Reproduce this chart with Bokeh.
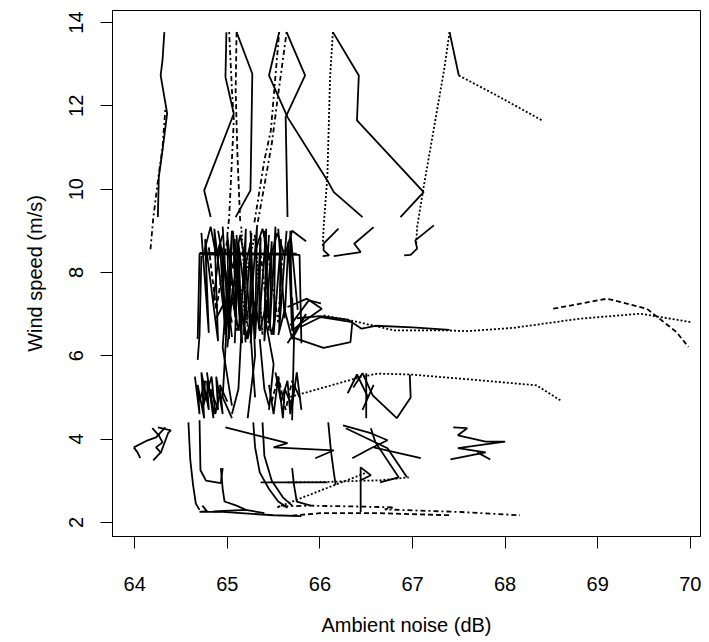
from bokeh.plotting import figure
from bokeh.models import FixedTicker, Range1d
from bokeh.embed import file_html
from bokeh.resources import INLINE

x_ticks = [64, 65, 66, 67, 68, 69, 70]
y_ticks = [2, 4, 6, 8, 10, 12, 14]
x_title = "Ambient noise (dB)"
y_title = "Wind speed (m/s)"

DASH = {"solid": "solid", "dashed": "5 3", "dotted": "2 2",
        "dotdash": "2 3 5 3", "longdash": "8 3", "twodash": "2 2 6 2"}

# ---- high-wind traces (top of chart)
top_noise = [
    [64.32, 64.30, 64.28, 64.35, 64.30, 64.26, 64.25],
    [64.33, 64.30, 64.25, 64.20, 64.17],
    [64.99, 64.98, 65.07, 64.75, 64.82],
    [65.02, 65.05, 65.07, 65.02, 65.00],
    [65.10, 65.09, 65.11, 65.14],
    [65.10, 65.27, 65.25, 65.09],
    [65.56, 65.45, 65.65, 66.08, 66.15, 66.46],
    [65.64, 65.84, 65.63, 65.65],
    [65.56, 65.47, 65.40, 65.29],
    [65.64, 65.54, 65.48, 65.32],
    [66.14, 66.11, 66.08, 66.04, 66.03],
    [66.14, 66.42, 66.40, 67.12, 66.87],
    [67.40, 67.34, 67.12, 67.05, 67.04],
    [67.40, 67.50],
    [67.50, 67.91, 68.40],
    [66.20, 66.04, 66.04, 66.10, 66.03],
    [66.15, 66.44, 66.37, 66.58],
    [66.91, 66.98, 67.05, 67.03, 67.23],
]
top_wind = [
    [13.77, 13.09, 12.73, 11.82, 10.93, 10.29, 9.33],
    [11.90, 11.00, 10.20, 9.30, 8.55],
    [13.77, 12.69, 11.81, 9.97, 9.33],
    [13.77, 12.37, 11.65, 9.33, 8.90],
    [13.77, 12.37, 10.77, 9.17],
    [13.77, 12.77, 9.97, 9.33],
    [13.77, 12.73, 11.73, 10.21, 9.93, 9.33],
    [13.77, 12.73, 11.73, 9.33],
    [13.77, 11.41, 10.69, 9.17],
    [13.77, 12.12, 11.09, 9.09],
    [13.77, 12.69, 10.29, 9.09, 8.60],
    [13.77, 12.73, 11.65, 9.93, 9.33],
    [13.77, 12.85, 10.05, 9.09, 8.70],
    [13.77, 12.73],
    [12.73, 12.25, 11.65],
    [9.05, 8.69, 8.53, 8.41, 8.39],
    [8.39, 8.49, 8.69, 9.09],
    [8.41, 8.42, 8.57, 8.77, 9.13],
]
top_dash = ["solid", "dotdash", "solid", "dotdash", "dashed", "solid", "solid",
            "solid", "dotdash", "dotdash", "dotted", "solid", "dotted", "solid",
            "dotted", "solid", "solid", "solid"]

# ---- dense middle cluster
mid_noise = [
    [64.72, 64.80, 64.76, 64.90, 64.86, 64.98, 64.94, 65.05],
    [64.95, 65.02, 65.00, 65.10, 65.06, 65.16, 65.12, 65.22],
    [65.08, 65.14, 65.20, 65.18, 65.26, 65.24, 65.32, 65.30],
    [65.25, 65.30, 65.36, 65.34, 65.42, 65.40, 65.48, 65.46],
    [65.40, 65.46, 65.52, 65.50, 65.58, 65.56, 65.64],
    [65.55, 65.62, 65.66, 65.70, 65.68, 65.76],
    [64.85, 64.92, 64.98, 65.05, 65.02, 65.12, 65.08],
    [65.00, 65.05, 65.12, 65.15, 65.20, 65.28, 65.25],
    [65.15, 65.22, 65.30, 65.35, 65.42, 65.48, 65.52],
    [64.80, 64.88, 65.00, 65.10, 65.08, 65.20],
    [65.15, 65.22, 65.15, 65.30, 65.38, 65.33],
    [65.35, 65.45, 65.40, 65.55, 65.60],
    [64.68, 64.70, 65.78, 65.80],
    [64.70, 65.75],
    [64.73, 65.70],
    [65.10, 65.15, 65.12, 65.05],
    [65.25, 65.30, 65.22],
    [65.20, 65.28, 65.30],
    [64.72, 64.70, 64.68],
    [65.70, 65.72, 65.70],
    [64.90, 65.00, 64.95, 65.05],
    [65.45, 65.40, 65.50, 65.45],
    [65.00, 65.06, 65.14, 65.20, 65.26],
    [65.30, 65.38, 65.46, 65.54, 65.62, 65.70, 65.85],
    [64.75, 64.82, 64.88, 64.95],
    [65.55, 65.62, 65.70, 65.85, 65.65],
    [65.68, 65.88, 66.01],
    [64.88, 64.95, 65.05, 65.02, 64.98],
]
mid_wind = [
    [8.95, 6.55, 8.80, 6.35, 9.05, 6.70, 8.60, 6.45],
    [9.10, 6.40, 8.90, 6.80, 9.00, 6.30, 8.70, 6.90],
    [8.80, 6.60, 9.05, 6.50, 8.95, 6.75, 9.10, 6.40],
    [9.00, 6.45, 8.85, 6.65, 9.05, 6.35, 8.75, 6.85],
    [8.90, 6.70, 9.10, 6.50, 8.80, 6.60, 9.00],
    [9.05, 6.90, 8.75, 6.60, 9.00, 7.10],
    [7.30, 8.70, 6.50, 9.00, 7.00, 8.50, 6.30],
    [6.20, 7.40, 6.60, 7.20, 6.40, 7.10, 6.30],
    [7.00, 6.40, 7.30, 6.60, 7.20, 6.50, 7.00],
    [8.60, 7.10, 8.80, 6.60, 8.40, 6.30],
    [9.10, 6.70, 7.50, 8.90, 6.50, 8.20],
    [8.70, 6.60, 9.00, 6.80, 8.60],
    [6.40, 8.45, 8.42, 6.30],
    [8.47, 8.45],
    [8.43, 8.44],
    [8.90, 6.50, 5.20, 4.60],
    [8.70, 6.00, 4.50],
    [8.20, 5.60, 5.00],
    [8.40, 6.50, 5.90],
    [7.40, 6.40, 4.45],
    [9.00, 7.80, 6.20, 4.80],
    [8.90, 7.00, 5.80, 4.70],
    [8.65, 8.10, 8.90, 8.20, 8.80],
    [8.50, 9.05, 8.30, 8.95, 8.40, 9.00, 8.75],
    [8.50, 9.10, 8.40, 8.90],
    [6.50, 7.10, 6.40, 7.00, 6.30],
    [6.73, 7.33, 7.26],
    [6.90, 7.20, 6.80, 7.10, 6.60],
]
mid_dash = ["solid", "solid", "solid", "solid", "solid", "solid", "solid", "solid",
            "solid", "dashed", "dotted", "dotdash", "solid", "solid", "solid",
            "solid", "solid", "solid", "solid", "solid", "solid", "solid",
            "solid", "solid", "solid", "solid", "solid", "solid"]

# ---- moderate wind traces extending to the right
right_noise = [
    [66.04, 66.33, 66.80, 67.37, 67.59, 68.09, 68.81, 69.46, 70.00],
    [65.75, 66.00, 66.30, 66.45, 66.60, 67.00, 67.40],
    [68.52, 69.10, 69.53, 69.85, 69.98],
    [65.72, 66.04, 66.33, 66.35, 66.01, 65.79],
    [65.65, 65.86, 66.02, 65.79, 65.70],
    [65.68, 66.44, 66.62, 66.98, 67.73, 68.34, 68.61],
    [66.36, 66.46, 66.57, 66.83, 66.98, 66.97],
    [66.50, 66.50],
    [66.30, 66.40, 66.52, 66.46, 66.58],
]
right_wind = [
    [6.97, 6.85, 6.61, 6.61, 6.59, 6.67, 6.89, 7.01, 6.81],
    [6.90, 6.95, 6.87, 6.65, 6.72, 6.68, 6.62],
    [7.13, 7.37, 7.13, 6.57, 6.21],
    [6.43, 6.19, 6.33, 6.81, 6.93, 6.69],
    [7.17, 7.37, 7.13, 6.77, 6.60],
    [5.01, 5.49, 5.57, 5.55, 5.41, 5.29, 4.91],
    [5.24, 5.58, 5.05, 4.50, 5.00, 5.55],
    [5.58, 4.50],
    [5.10, 5.55, 5.00, 4.70, 5.30],
]
right_dash = ["dotted", "solid", "dashed", "solid", "solid", "dotted", "solid",
              "solid", "solid"]

# ---- lower-middle cluster (4.5 - 5.6 m/s)
low_noise = [
    [64.65, 64.70, 64.68, 64.75, 64.72, 64.80, 64.78, 64.86],
    [64.78, 64.85, 64.82, 64.90, 64.88, 64.95, 64.92, 65.00],
    [64.70, 64.76, 64.74, 64.83, 64.87, 64.93],
    [65.45, 65.50, 65.55, 65.60, 65.62, 65.70, 65.75, 65.80],
    [65.52, 65.58, 65.65, 65.68, 65.72, 65.78],
    [65.48, 65.55, 65.63, 65.70],
    [65.00, 64.95, 65.05],
    [65.35, 65.40, 65.45],
]
low_wind = [
    [5.50, 4.60, 5.30, 4.50, 5.60, 4.70, 5.40, 4.60],
    [5.60, 4.50, 5.20, 4.70, 5.50, 4.60, 5.30, 4.90],
    [4.90, 5.40, 4.80, 5.50, 4.60, 5.20],
    [5.30, 4.60, 5.50, 4.50, 5.20, 4.80, 5.60, 4.70],
    [5.60, 4.90, 5.40, 4.60, 5.30, 5.00],
    [4.90, 5.50, 4.70, 5.40],
    [7.00, 5.00, 4.50],
    [6.40, 5.20, 4.80],
]
low_dash = ["solid", "solid", "solid", "solid", "solid", "dashed", "solid", "solid"]

# ---- calm traces (2 - 4.4 m/s)
calm_noise = [
    [63.99, 64.14, 64.23, 64.33],
    [64.19, 64.26, 64.30, 64.23, 64.28, 64.20],
    [63.99, 64.03, 64.06],
    [64.25, 64.39, 64.36, 64.28],
    [64.58, 64.60, 64.63, 64.66, 64.70],
    [64.70, 64.71, 64.77, 64.93, 64.95],
    [64.93, 64.95, 64.97, 65.10, 65.20],
    [65.28, 65.30, 65.35, 65.45, 65.55, 65.65],
    [65.38, 65.40, 65.48, 65.60, 65.70],
    [65.70, 65.72, 65.75, 65.90],
    [66.09, 66.12, 66.15, 66.17],
    [66.44, 66.44, 66.55, 66.44, 66.44],
    [64.98, 65.65, 65.50, 66.15, 65.95],
    [65.65, 66.06, 66.65, 66.96],
    [65.36, 66.08],
    [65.54, 66.51],
    [66.25, 66.55, 66.73, 66.55, 66.35],
    [66.58, 67.09],
    [66.55, 66.60, 66.85, 66.65],
    [66.28, 66.73, 66.94],
    [67.44, 67.59, 67.49, 67.79, 68.00, 67.49, 67.79, 67.41],
    [67.70, 67.84],
    [64.73, 64.78, 64.70, 64.95, 65.50, 65.80],
    [65.55, 65.90, 66.40, 66.80, 66.70, 67.50, 68.16],
    [65.70, 66.00, 66.65, 67.41],
    [64.85, 65.20, 65.40],
]
calm_wind = [
    [3.80, 3.97, 4.04, 4.28],
    [4.26, 4.09, 3.92, 3.80, 3.68, 3.49],
    [3.80, 3.68, 3.54],
    [4.28, 4.21, 4.14, 3.66],
    [4.40, 3.50, 2.90, 2.45, 2.30],
    [4.45, 3.25, 3.00, 2.94, 3.30],
    [3.30, 2.80, 2.50, 2.40, 2.30],
    [4.40, 3.80, 3.20, 2.80, 2.50, 2.35],
    [4.40, 3.60, 3.00, 2.60, 2.40],
    [3.30, 2.90, 2.50, 2.40],
    [4.40, 3.70, 3.20, 2.90],
    [2.24, 3.32, 3.13, 3.01, 2.24],
    [4.28, 3.90, 3.80, 3.73, 3.54],
    [2.96, 2.97, 3.01, 3.08],
    [2.96, 2.96],
    [2.36, 3.20],
    [4.33, 4.14, 3.97, 3.78, 3.54],
    [3.80, 3.54],
    [4.26, 3.92, 3.08, 2.96],
    [4.26, 3.78, 3.08],
    [4.28, 4.26, 4.09, 3.94, 3.94, 3.78, 3.68, 3.51],
    [3.68, 3.51],
    [2.40, 2.27, 2.25, 2.25, 2.17, 2.15],
    [2.38, 2.40, 2.38, 2.36, 2.31, 2.25, 2.17],
    [2.16, 2.22, 2.22, 2.17],
    [2.26, 2.30, 2.22],
]
calm_dash = ["solid", "solid", "solid", "solid", "solid", "solid", "solid", "solid",
             "solid", "solid", "solid", "solid", "solid", "dotted", "solid",
             "dotted", "solid", "solid", "solid", "solid", "solid", "solid",
             "solid", "dotdash", "dashed", "solid"]

FONT = "Liberation Sans"

p = figure(width=708, height=640, x_range=Range1d(63.76, 70.11),
           y_range=Range1d(1.66, 14.29), output_backend="svg",
           toolbar_location=None, min_border_left=112, min_border_right=8,
           min_border_top=10, min_border_bottom=104)
p.xgrid.visible = False
p.ygrid.visible = False
p.outline_line_color = "black"
p.outline_line_width = 1
p.background_fill_color = "white"
p.border_fill_color = "white"

groups = [(top_noise, top_wind, top_dash), (mid_noise, mid_wind, mid_dash),
          (right_noise, right_wind, right_dash), (low_noise, low_wind, low_dash),
          (calm_noise, calm_wind, calm_dash)]
for xs_list, ys_list, dashes in groups:
    for xs, ys, d in zip(xs_list, ys_list, dashes):
        p.line(xs, ys, line_color="black", line_width=1.8, line_dash=DASH[d])

p.xaxis.ticker = FixedTicker(ticks=x_ticks)
p.yaxis.ticker = FixedTicker(ticks=y_ticks)
for ax in (p.xaxis[0], p.yaxis[0]):
    ax.minor_tick_line_color = None
    ax.major_tick_in = 0
    ax.major_tick_out = 12
    ax.major_tick_line_color = "black"
    ax.axis_line_color = "black"
    ax.major_label_text_font = FONT
    ax.major_label_text_font_size = "20px"
    ax.major_label_text_color = "black"
    ax.axis_label_text_font = FONT
    ax.axis_label_text_font_size = "20px"
    ax.axis_label_text_font_style = "normal"
    ax.axis_label_text_color = "black"
p.xaxis.axis_label = x_title
p.yaxis.axis_label = y_title
p.xaxis.major_label_standoff = 28
p.xaxis.axis_label_standoff = 20
p.yaxis.major_label_orientation = "vertical"
p.yaxis.major_label_standoff = 17
p.yaxis.axis_label_standoff = 21

open("out.html", "w").write(file_html(p, INLINE))
